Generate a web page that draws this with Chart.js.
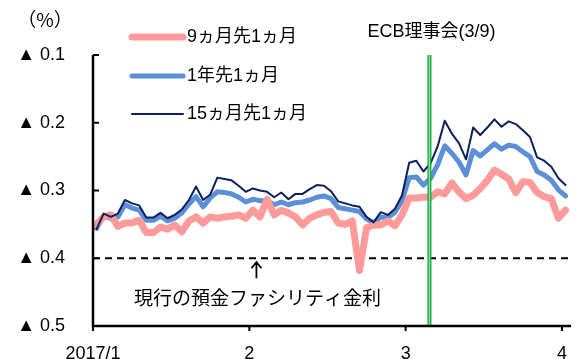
<!DOCTYPE html>
<html>
<head>
<meta charset="utf-8">
<script src="https://cdn.jsdelivr.net/npm/chart.js@4"></script>
<style>
html,body{margin:0;padding:0;background:#fff;}
canvas{display:block;}
</style>
</head>
<body>
<canvas id="c" width="576" height="359"></canvas>
<script>
// ---- data ----
const xTickLabels = ['2017/1', '2', '3', '4'];
const pointsPerTick = 22;
const yTickValues = [-0.1, -0.2, -0.3, -0.4, -0.5];
const seriesNames = ['9ヵ月先1ヵ月', '1年先1ヵ月', '15ヵ月先1ヵ月'];
const fwd9m = [-0.350,-0.339,-0.336,-0.353,-0.348,-0.348,-0.344,-0.362,-0.362,-0.354,-0.357,-0.351,-0.361,-0.345,-0.339,-0.348,
  -0.339,-0.341,-0.339,-0.338,-0.336,-0.341,-0.329,-0.339,-0.313,-0.336,-0.329,-0.333,-0.339,-0.351,-0.341,-0.336,
  -0.332,-0.331,-0.348,-0.350,-0.345,-0.418,-0.355,-0.351,-0.351,-0.345,-0.352,-0.336,-0.311,-0.311,-0.310,-0.310,
  -0.302,-0.305,-0.289,-0.302,-0.312,-0.307,-0.297,-0.285,-0.270,-0.276,-0.283,-0.303,-0.287,-0.288,-0.303,-0.309,
  -0.312,-0.341,-0.329];
const fwd1y = [-0.356,-0.338,-0.341,-0.339,-0.321,-0.326,-0.329,-0.344,-0.344,-0.338,-0.345,-0.341,-0.333,-0.320,-0.309,-0.324,
  -0.311,-0.302,-0.303,-0.305,-0.310,-0.317,-0.313,-0.315,-0.315,-0.321,-0.317,-0.321,-0.318,-0.317,-0.314,-0.310,
  -0.308,-0.312,-0.325,-0.327,-0.329,-0.331,-0.342,-0.348,-0.339,-0.340,-0.332,-0.315,-0.281,-0.280,-0.292,-0.282,
  -0.262,-0.234,-0.245,-0.258,-0.277,-0.241,-0.249,-0.240,-0.231,-0.239,-0.233,-0.235,-0.243,-0.250,-0.272,-0.277,
  -0.285,-0.299,-0.308];
const fwd15m = [-0.357,-0.334,-0.339,-0.334,-0.314,-0.319,-0.322,-0.340,-0.340,-0.333,-0.341,-0.336,-0.328,-0.314,-0.294,-0.314,
  -0.306,-0.281,-0.283,-0.285,-0.293,-0.302,-0.297,-0.300,-0.302,-0.310,-0.303,-0.313,-0.305,-0.305,-0.298,-0.292,
  -0.293,-0.301,-0.316,-0.319,-0.322,-0.324,-0.339,-0.347,-0.332,-0.336,-0.327,-0.307,-0.259,-0.256,-0.272,-0.260,
  -0.235,-0.197,-0.216,-0.230,-0.254,-0.207,-0.218,-0.207,-0.195,-0.206,-0.198,-0.202,-0.211,-0.221,-0.251,-0.256,
  -0.265,-0.282,-0.292];
const depositRate = -0.4;
const depositLabel = '現行の預金ファシリティ金利';
const ecbMeetingX = 47.35;
const ecbLabel = 'ECB理事会(3/9)';
const unitLabel = '（%）';

const toPoints = arr => arr.map((v, i) => ({x: i + 0.5, y: v}));
const colors = ['#ff9a9a', '#5b8fd8', '#0c1f5e'];
const widths = [7, 5, 2];

const JP = '"Liberation Sans", "Noto Sans CJK JP", sans-serif';

const deco = {
  id: 'deco',
  beforeDatasetsDraw(chart) {
    const {ctx, chartArea: a, scales: {y}} = chart;
    const py = y.getPixelForValue(depositRate);
    ctx.save();
    ctx.strokeStyle = '#000';
    ctx.lineWidth = 2;
    ctx.setLineDash([7, 5]);
    ctx.beginPath(); ctx.moveTo(a.left, py); ctx.lineTo(a.right, py); ctx.stroke();
    ctx.restore();
  },
  afterDatasetsDraw(chart) {
    const {ctx, chartArea: a, scales: {x, y}} = chart;
    ctx.save();
    const gx = x.getPixelForValue(ecbMeetingX);
    ctx.strokeStyle = '#17a843'; ctx.lineWidth = 4;
    ctx.beginPath(); ctx.moveTo(gx, a.top); ctx.lineTo(gx, a.bottom); ctx.stroke();
    ctx.strokeStyle = '#8fe0a4'; ctx.lineWidth = 1.3;
    ctx.beginPath(); ctx.moveTo(gx, a.top); ctx.lineTo(gx, a.bottom); ctx.stroke();
    ctx.strokeStyle = '#000'; ctx.lineWidth = 2.5; ctx.lineCap = 'butt';
    ctx.beginPath(); ctx.moveTo(a.left, a.top); ctx.lineTo(a.left, a.bottom); ctx.lineTo(a.right + 2, a.bottom); ctx.stroke();
    ctx.lineWidth = 2;
    yTickValues.forEach(v => {
      const p = y.getPixelForValue(v);
      ctx.beginPath(); ctx.moveTo(a.left, p); ctx.lineTo(a.left + 6, p); ctx.stroke();
    });
    xTickLabels.forEach((_, k) => {
      const p = x.getPixelForValue(k * pointsPerTick);
      ctx.beginPath(); ctx.moveTo(p, a.bottom); ctx.lineTo(p, a.bottom + 5); ctx.stroke();
    });
    ctx.restore();
  },
  afterDraw(chart) {
    const {ctx, scales: {x, y}} = chart;
    ctx.save();
    ctx.fillStyle = '#000';
    ctx.textBaseline = 'middle';
    ctx.textAlign = 'center';
    ctx.font = '19px "Noto Sans CJK JP", sans-serif';
    ctx.fillText(unitLabel, 45, 20);
    ctx.font = '18px ' + JP;
    ctx.fillText(ecbLabel, x.getPixelForValue(ecbMeetingX) + 2, 32);
    const ax = x.getPixelForValue(23);
    const ay = y.getPixelForValue(depositRate);
    ctx.font = '19px ' + JP;
    ctx.fillText(depositLabel, ax + 1, 300);
    ctx.strokeStyle = '#000'; ctx.lineWidth = 1.8;
    ctx.beginPath(); ctx.moveTo(ax, ay + 20); ctx.lineTo(ax, ay + 4);
    ctx.moveTo(ax - 5, ay + 10); ctx.lineTo(ax, ay + 4); ctx.lineTo(ax + 5, ay + 10); ctx.stroke();
    ctx.font = '18px ' + JP;
    const ly = [37, 76, 114];
    chart.data.datasets.forEach((ds, i) => {
      ctx.strokeStyle = ds.borderColor; ctx.lineWidth = ds.borderWidth; ctx.lineCap = 'round';
      ctx.beginPath(); ctx.moveTo(132, ly[i]); ctx.lineTo(183, ly[i]); ctx.stroke();
      ctx.textAlign = 'left';
      ctx.fillText(ds.label, 187, ly[i]);
    });
    ctx.restore();
  }
};

new Chart(document.getElementById('c'), {
  type: 'line',
  data: {
    datasets: [fwd9m, fwd1y, fwd15m].map((arr, i) => ({
      label: seriesNames[i],
      data: toPoints(arr),
      borderColor: colors[i],
      borderWidth: widths[i],
      pointRadius: 0,
      tension: 0,
      fill: false,
      borderJoinStyle: 'round',
      borderCapStyle: 'round',
      order: [2, 3, 1][i]
    }))
  },
  options: {
    responsive: false,
    animation: false,
    devicePixelRatio: 1,
    layout: {padding: {left: 0, right: 2, top: 55, bottom: 0}},
    plugins: {legend: {display: false}, tooltip: {enabled: false}},
    scales: {
      x: {
        type: 'linear', min: 0, max: 67,
        grid: {display: false}, border: {display: false},
        afterBuildTicks: s => { s.ticks = xTickLabels.map((_, k) => ({value: k * pointsPerTick})); },
        afterFit: s => { s.height = 33; },
        ticks: {
          callback: v => xTickLabels[Math.round(v / pointsPerTick)],
          font: {size: 18, family: JP}, color: '#000', padding: 9,
          maxRotation: 0, autoSkip: false
        }
      },
      y: {
        min: -0.5, max: -0.1,
        grid: {display: false}, border: {display: false},
        afterBuildTicks: s => { s.ticks = yTickValues.map(v => ({value: v})); },
        afterFit: s => { s.width = 93; },
        ticks: {
          callback: v => '▲ ' + Math.abs(v).toFixed(1),
          font: {size: 18, family: JP}, color: '#000', padding: 20
        }
      }
    }
  },
  plugins: [deco]
});
</script>
</body>
</html>
